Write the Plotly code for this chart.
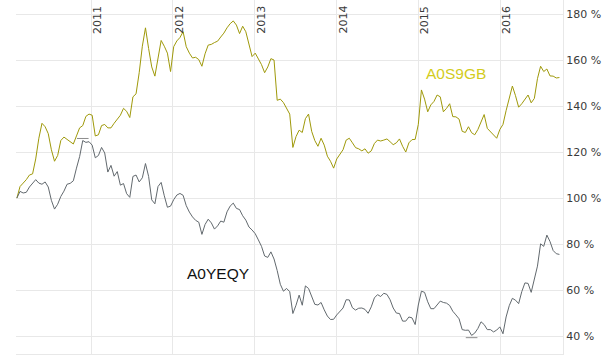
import pandas as pd
import plotly.graph_objects as go

# ---- data (percent of start value, sampled every 14 days) ----
start_date = "2010-02-04"
step = "14D"

a0s9gb = [100, 105, 106.5, 108, 110, 110.5, 117, 126, 132.5, 131, 128, 121, 116, 118.5, 125, 126.5,
          125.5, 124.5, 123.5, 127, 130.5, 131.5, 135.5, 136.5, 136, 127, 127.5, 131.5, 132, 130.5,
          130.5, 132.5, 134.3, 136, 139, 137.7, 135, 144, 145.3, 154.5, 166, 174, 165, 157, 153, 160,
          168.5, 166, 163, 155, 165.8, 168.3, 169.8, 172.3, 165.8, 163, 160.9, 161.2, 160.2, 157.3,
          162.7, 166.5, 166.8, 167.6, 168.2, 170, 171.7, 174, 175.8, 177, 175.2, 171.5, 174.7, 172.3,
          166.6, 161.5, 163, 160.8, 158, 154.5, 157, 160.6, 160, 142.5, 143, 141.5, 139.3, 136.5, 122,
          126.7, 129.5, 128.5, 134.5, 136.5, 129, 125, 122.5, 126, 123, 118.2, 116, 113, 117, 119, 121,
          125.2, 126, 124, 121.9, 121.4, 120.5, 121.4, 119.5, 120.5, 123.7, 125.2, 124.8, 125.2, 125.7,
          124.5, 123.2, 124, 125.7, 122.5, 120, 124, 125.4, 125.5, 132, 147, 143, 137.5, 140.5, 142,
          144.8, 144, 137.5, 139, 141, 135.4, 135.3, 134.3, 129, 128.5, 131, 128.4, 127.5, 129.8, 133.2,
          136.3, 130.3, 128.9, 127.3, 126, 129.8, 132, 138, 143.6, 148.7, 144.5, 139.5, 141, 142.8,
          144.8, 141.4, 143.3, 151.9, 157.3, 155, 156.1, 153.1, 153, 152.2, 152.4]

a0yeqy = [100, 102.9, 102.2, 102.5, 104.8, 106.2, 108, 106.5, 106, 107, 104.8, 99, 95.2, 97.3, 100.7,
          103, 106, 106.4, 107.5, 113, 118, 125, 124.2, 124.5, 123, 117.5, 118.5, 122, 119.6, 111.3,
          114.2, 109.5, 111.5, 105.6, 106.3, 101.9, 100.3, 109.4, 110, 107, 108.8, 115, 109.4, 99.2,
          97.5, 105, 106.8, 101, 96, 96.5, 99.3, 101.3, 102, 101.2, 96.7, 93.9, 91.8, 90.3, 89.5, 84.2,
          88.5, 90.8, 89.2, 86.5, 87.9, 90, 89.5, 94, 96.5, 97.8, 95.5, 95, 92.3, 90.4, 87.4, 86.1,
          84.5, 81.8, 79, 74.8, 74.2, 76.6, 73.5, 68.5, 62.5, 59.5, 60.7, 59.3, 49.8, 53.4, 57.8, 53.4,
          61.8, 60.7, 57.1, 53.8, 53.5, 54.6, 51.4, 48.7, 47.2, 47.3, 49.2, 50.9, 52.2, 55.8, 55.7,
          52.3, 51.3, 52.1, 52.2, 51.6, 49.9, 52.7, 56.6, 58, 57.2, 58.6, 58.1, 55.8, 52.2, 50, 49.8,
          46.5, 46.5, 48.3, 47.9, 45, 53.5, 59.5, 59, 54.9, 51.9, 51.9, 53.8, 55.2, 54.6, 54.3, 53.3,
          50.8, 49.2, 47.5, 42.8, 42.5, 42.6, 40.3, 41.3, 43.3, 46.2, 45, 42.8, 42.8, 41.8, 42.6, 44,
          41.0, 48.3, 53.2, 56.4, 55.6, 54.1, 59.3, 63.1, 62.9, 59, 65.2, 70.4, 80.1, 79, 83.9, 81.1,
          77.2, 75.8, 75.5]

# daily extremes of A0YEQY marked on the chart
a0yeqy_high = 125.9
a0yeqy_low = 39.3

series_names = ["A0S9GB", "A0YEQY"]
year_labels = ["2011", "2012", "2013", "2014", "2015", "2016"]
y_ticks = [40, 60, 80, 100, 120, 140, 160, 180]
y_ticktext = [f"{v} %" for v in y_ticks]

# label anchor points (date, value)
label_pos = {"A0S9GB": ("2015-06-17", 154.0), "A0YEQY": ("2012-07-20", 67.1)}

dates = pd.date_range(start_date, periods=len(a0s9gb), freq=step)

YELLOW = "#9f990a"
YELLOW_TXT = "#d3cc1c"
GRAY = "#62696e"
GRID = "#e8e8e8"

fig = go.Figure()
fig.add_trace(go.Scatter(x=dates, y=a0s9gb, mode="lines", name=series_names[0],
                         line=dict(color=YELLOW, width=1)))
fig.add_trace(go.Scatter(x=dates, y=a0yeqy, mode="lines", name=series_names[1],
                         line=dict(color=GRAY, width=1)))

# high / low markers of A0YEQY
s = pd.Series(a0yeqy, index=dates)
half = pd.Timedelta(days=26)
for d, val in [(s.idxmax(), a0yeqy_high), (s.idxmin(), a0yeqy_low)]:
    fig.add_trace(go.Scatter(x=[d - half, d + half], y=[val, val], mode="lines",
                             line=dict(color="#8c8c8c", width=1), hoverinfo="skip"))

annotations = []
for yl in year_labels:
    annotations.append(dict(x=f"{yl}-01-01", y=1, xref="x", yref="paper", text=yl,
                            textangle=-90, showarrow=False, xanchor="center", yanchor="top",
                            xshift=6, yshift=-4,
                            font=dict(family="DejaVu Sans", size=11, color="#3a3a3a")))
annotations.append(dict(x=label_pos["A0S9GB"][0], y=label_pos["A0S9GB"][1], text="A0S9GB",
                        showarrow=False, font=dict(family="Liberation Sans", size=15.5, color=YELLOW_TXT)))
annotations.append(dict(x=label_pos["A0YEQY"][0], y=label_pos["A0YEQY"][1], text="A0YEQY",
                        showarrow=False, font=dict(family="Liberation Sans", size=15.5, color="#111111")))

fig.update_layout(
    width=612, height=355,
    margin=dict(l=16, r=49, t=0, b=1),
    paper_bgcolor="white", plot_bgcolor="white",
    showlegend=False,
    annotations=annotations,
    xaxis=dict(range=["2010-01-31", "2016-10-08"], showticklabels=False,
               tickvals=[f"{y}-01-01" for y in year_labels],
               showgrid=True, gridcolor=GRID, gridwidth=1, zeroline=False,
               showline=True, linecolor=GRID, linewidth=1, ticks=""),
    yaxis=dict(range=[32.2, 186.1], side="right", tickvals=y_ticks, ticktext=y_ticktext,
               showgrid=True, gridcolor=GRID, gridwidth=1, zeroline=False,
               showline=True, linecolor=GRID, linewidth=1, ticks="",
               tickfont=dict(family="DejaVu Sans", size=11, color="#3a3a3a")),
)

fig.write_html("out.html", config={"displayModeBar": False},
               post_script="document.body.style.margin='0';document.body.style.overflow='hidden';")
